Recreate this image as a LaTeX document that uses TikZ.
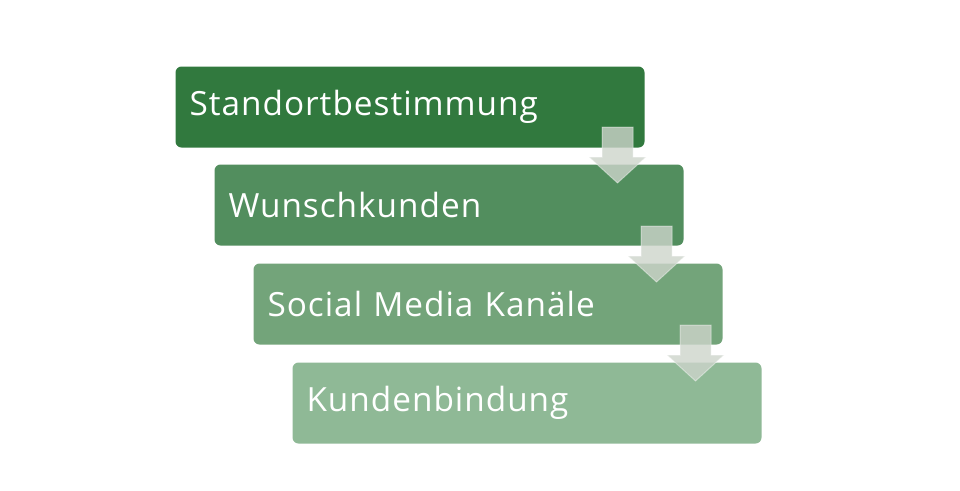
\documentclass[tikz,border=0pt]{standalone}
\usepackage{fontspec}
\setmainfont[LetterSpace=3]{Open Sans}
\tikzset{every picture/.style={line width=0.75pt}}
\tikzset{
  stagebox/.style={draw=none, rounded corners=4.5pt, anchor=north west, inner xsep=10.5pt,
    minimum width=351.75pt, minimum height=60.75pt, text width=330.75pt, align=left,
    text=white, font=\fontsize{25}{29}\selectfont},
  downarrow/.style={fill={rgb, 255:red, 205; green, 212; blue, 203}, fill opacity=0.8,
    draw=white, draw opacity=0.4, line width=0.75pt}
}
\definecolor{stageA}{RGB}{49,121,62}
\definecolor{stageB}{RGB}{82,142,94}
\definecolor{stageC}{RGB}{115,164,122}
\definecolor{stageD}{RGB}{143,185,150}

\begin{document}
\begin{tikzpicture}[x=0.75pt,y=0.75pt,yscale=-1]
	\useasboundingbox (0,0) rectangle (960,490);
	% Draw stage boxes
	\node [stagebox, fill=stageA] (stand) at (175,66) {Standortbestimmung};
	\node [stagebox, fill=stageB] (wunsch) at (214,164) {Wunschkunden};
	\node [stagebox, fill=stageC] (social) at (253,263) {Social Media Kanäle};
	\node [stagebox, fill=stageD] (bindung) at (292,362) {Kundenbindung};
	
	% Draw block arrows between the stages
	\draw [downarrow] (602,127) -- (633,127) -- (633,157) -- (646,157) -- (617.5,183) -- (589,157) -- (602,157) -- cycle ;
	\draw [downarrow] (641,226) -- (672,226) -- (672,256) -- (685,256) -- (656.5,282) -- (628,256) -- (641,256) -- cycle ;
	\draw [downarrow] (680,325) -- (711,325) -- (711,355) -- (724,355) -- (695.5,381) -- (667,355) -- (680,355) -- cycle ;
\end{tikzpicture}
\end{document}
